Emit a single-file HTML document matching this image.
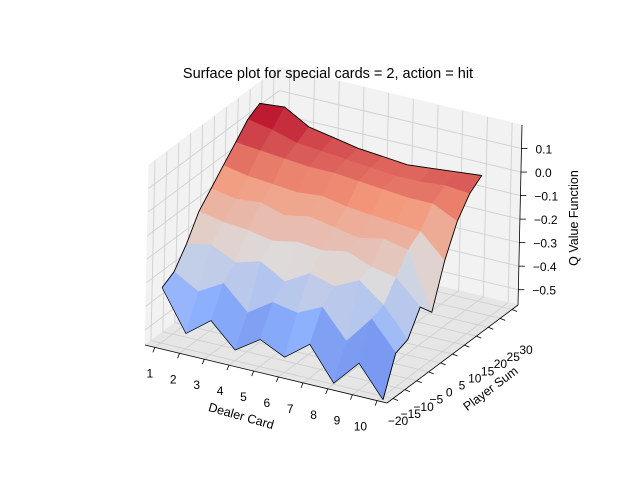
<!DOCTYPE html>
<html><head><meta charset="utf-8"><style>
body{margin:0;background:#fff}
svg{display:block;font-family:"Liberation Sans","DejaVu Sans",sans-serif}
</style></head><body>
<svg id="chart" width="640" height="480" viewBox="0 0 640 480">
<rect width="640" height="480" fill="#fff"/>
<g id="panes"></g><g id="grid"></g><g id="surf"></g><g id="axes"></g>
<text x="328" y="78" text-anchor="middle" font-size="14.5">Surface plot for special cards = 2, action = hit</text>
<text transform="translate(240,420) rotate(16)" text-anchor="middle" font-size="12.5">Dealer Card</text>
<text transform="translate(493,392) rotate(-37)" text-anchor="middle" font-size="12.5">Player Sum</text>
<text transform="translate(578,218) rotate(-90)" text-anchor="middle" font-size="12.5">Q Value Function</text>
</svg>
<script>
const dealerCards=[1,2,3,4,5,6,7,8,9,10];
const playerSums=[-20,-15,-10,-5,0,5,10,15,20];
const qValues=[
[-0.33,-0.50,-0.42,-0.52,-0.45,-0.50,-0.42,-0.56,-0.45,-0.58],
[-0.30,-0.36,-0.30,-0.40,-0.33,-0.35,-0.30,-0.42,-0.30,-0.42],
[-0.22,-0.20,-0.25,-0.22,-0.28,-0.22,-0.25,-0.20,-0.28,-0.40],
[-0.12,-0.14,-0.15,-0.17,-0.15,-0.16,-0.14,-0.18,-0.20,-0.30],
[-0.06,-0.08,-0.07,-0.10,-0.08,-0.10,-0.12,-0.10,-0.12,-0.36],
[0.00,-0.02,-0.03,-0.04,-0.03,-0.05,-0.06,-0.07,-0.08,-0.18],
[0.06,0.05,0.04,0.03,0.03,0.02,0.01,0.00,0.00,-0.05],
[0.12,0.10,0.07,0.06,0.05,0.04,0.03,0.03,0.04,0.03],
[0.15,0.16,0.10,0.08,0.06,0.05,0.04,0.05,0.06,0.07]];
const xTickVals=[1,2,3,4,5,6,7,8,9,10];
const xTickLabels=["1","2","3","4","5","6","7","8","9","10"];
const yTickVals=[-20,-15,-10,-5,0,5,10,15,20,25,30];
const yTickLabels=["\u221220","\u221215","\u221210","\u22125","0","5","10","15","20","25","30"];
const zTicks=[-0.5,-0.4,-0.3,-0.2,-0.1,0.0,0.1];

const NS="http://www.w3.org/2000/svg";
const xmin=0.6,xmax=10.4,ymin=-22.5,ymax=32.5,zmin=-0.565,zmax=0.2;
const A=[145,345],B=[387,403],D=[276,247],H=180;
function P(x,y,z){const u=(x-xmin)/(xmax-xmin),v=(y-ymin)/(ymax-ymin),w=(z-zmin)/(zmax-zmin);
 return [A[0]+u*(B[0]-A[0])+v*(D[0]-A[0])+w*4, A[1]+u*(B[1]-A[1])+v*(D[1]-A[1])-w*H];}
function el(tag,attrs,parent){const e=document.createElementNS(NS,tag);for(const k in attrs)e.setAttribute(k,attrs[k]);parent.appendChild(e);return e;}
function pts(a){return a.map(p=>p[0].toFixed(1)+","+p[1].toFixed(1)).join(" ");}
const panes=document.getElementById('panes'),grid=document.getElementById('grid'),surf=document.getElementById('surf'),axes=document.getElementById('axes');
let p1=el('polygon',{points:pts([P(xmin,ymin,zmin),P(xmin,ymax,zmin),P(xmin,ymax,zmax),P(xmin,ymin,zmax)]),fill:'#f2f2f2',stroke:'#f2f2f2'},panes);

let p2=el('polygon',{points:pts([P(xmin,ymax,zmin),P(xmax,ymax,zmin),P(xmax,ymax,zmax),P(xmin,ymax,zmax)]),fill:'#f2f2f2',stroke:'#f2f2f2'},panes);

let p3=el('polygon',{points:pts([P(xmin,ymin,zmin),P(xmax,ymin,zmin),P(xmax,ymax,zmin),P(xmin,ymax,zmin)]),fill:'#e6e6e6',stroke:'#e6e6e6'},panes);

function gl(a,b){const l=el('line',{x1:a[0],y1:a[1],x2:b[0],y2:b[1],stroke:'#d0d0d0','stroke-width':0.9},grid);
 }
xTickVals.forEach(x=>{gl(P(x,ymin,zmin),P(x,ymax,zmin));gl(P(x,ymax,zmin),P(x,ymax,zmax));});
yTickVals.forEach(y=>{gl(P(xmin,y,zmin),P(xmax,y,zmin));gl(P(xmin,y,zmin),P(xmin,y,zmax));});
zTicks.forEach(z=>{gl(P(xmin,ymin,z),P(xmin,ymax,z));gl(P(xmin,ymax,z),P(xmax,ymax,z));});
const stops=[[0,[59,76,192]],[0.25,[141,176,254]],[0.5,[221,220,220]],[0.75,[244,152,122]],[1,[180,4,38]]];
function cmap(t){t=Math.max(0,Math.min(1,t));for(let i=1;i<stops.length;i++){if(t<=stops[i][0]){const a=stops[i-1],b=stops[i],f=(t-a[0])/(b[0]-a[0]);
 return 'rgb('+a[1].map((c,k)=>Math.round(c+f*(b[1][k]-c))).join(',')+')';}}return 'rgb(180,4,38)';}
let vmin=Infinity,vmax=-Infinity;qValues.forEach(r=>r.forEach(v=>{vmin=Math.min(vmin,v);vmax=Math.max(vmax,v);}));
const facets=[];
for(let j=0;j<playerSums.length-1;j++)for(let i=0;i<dealerCards.length-1;i++){
 const x0=dealerCards[i],x1=dealerCards[i+1],y0=playerSums[j],y1=playerSums[j+1];
 const z00=qValues[j][i],z10=qValues[j][i+1],z01=qValues[j+1][i],z11=qValues[j+1][i+1];
 const avg=(z00+z10+z01+z11)/4;
 const depth=(x0+x1)/2/(xmax-xmin)-(y0+y1)/2/(ymax-ymin);
 facets.push({poly:[P(x0,y0,z00),P(x1,y0,z10),P(x1,y1,z11),P(x0,y1,z01)],c:cmap((avg-vmin)/(vmax-vmin)),depth});}
facets.sort((a,b)=>a.depth-b.depth);
facets.forEach(f=>{const g=el('polygon',{points:pts(f.poly),fill:f.c,stroke:f.c,'stroke-width':0.6,'stroke-linejoin':'round'},surf);
 });
const nJ=playerSums.length,nI=dealerCards.length,edge=[];
for(let j=0;j<nJ;j++)edge.push(P(dealerCards[0],playerSums[j],qValues[j][0]));
for(let i=1;i<nI;i++)edge.push(P(dealerCards[i],playerSums[nJ-1],qValues[nJ-1][i]));
for(let j=nJ-2;j>=0;j--)edge.push(P(dealerCards[nI-1],playerSums[j],qValues[j][nI-1]));
const ol=el('polyline',{points:pts(edge),fill:'none',stroke:'#000','stroke-width':0.9},surf);

const front=dealerCards.map((x,i)=>P(x,playerSums[0],qValues[0][i]));
const fl=el('polyline',{points:pts(front),fill:'none',stroke:'#000','stroke-width':0.7},surf);

function al(a,b,name){const l=el('line',{x1:a[0],y1:a[1],x2:b[0],y2:b[1],stroke:'#000','stroke-width':0.8},axes);
 }
al(P(xmin,ymin,zmin),P(xmax,ymin,zmin),'x-axis-line');
al(P(xmax,ymin,zmin),P(xmax,ymax,zmin),'y-axis-line');
al(P(xmax,ymax,zmin),P(xmax,ymax,zmax),'z-axis-line');
xTickVals.forEach((x,i)=>{const p=P(x,ymin,zmin);al(p,[p[0]-2,p[1]+5],'x-tick');
 const t=el('text',{x:p[0]-5-i*1.3,y:p[1]+30,'text-anchor':'middle','font-size':12},axes);t.textContent=xTickLabels[i];
 });
yTickVals.forEach((y,i)=>{const p=P(xmax,y,zmin);al(p,[p[0]+5,p[1]+2],'y-tick');
 const f=(y-yTickVals[0])/(yTickVals[yTickVals.length-1]-yTickVals[0]);
 const t=el('text',{x:398+f*128,y:425-f*71,'text-anchor':'middle','font-size':12},axes);t.textContent=yTickLabels[i];
 });
zTicks.forEach(z=>{const p=P(xmax,ymax,z);al(p,[p[0]+6,p[1]],'z-tick');
 const t=el('text',{x:p[0]+14,y:p[1]+5,'font-size':12},axes);t.textContent=(z<0?'\u2212':'')+Math.abs(z).toFixed(1);
 });
</script>
</body></html>
